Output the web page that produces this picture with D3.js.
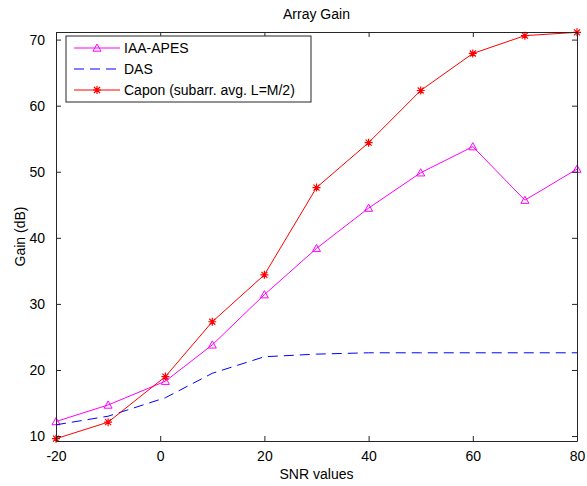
<html>
<head>
<meta charset="UTF-8">
<script src="https://cdn.jsdelivr.net/npm/d3@7"></script>
<style>
  body { margin: 0; background: #fff; }
  text { font-family: "Liberation Sans", Arial, sans-serif; font-size: 14px; fill: #000; }
</style>
</head>
<body>
<svg width="587" height="486"></svg>
<script>
// data
var snr = [-20, -10, 1, 10, 20, 30, 40, 50, 60, 70, 80];
var iaaApes = [12.2, 14.7, 18.3, 23.8, 31.4, 38.4, 44.5, 49.85, 53.8, 45.7, 50.4];
var das = [11.7, 13.0, 15.8, 19.5, 22.0, 22.4, 22.6, 22.6, 22.6, 22.6, 22.6];
var capon = [9.6, 12.1, 19.0, 27.3, 34.4, 47.6, 54.4, 62.3, 67.9, 70.6, 71.1];
var xTicks = [-20, 0, 20, 40, 60, 80];
var yTicks = [10, 20, 30, 40, 50, 60, 70];
var seriesNames = ["IAA-APES", "DAS", "Capon (subarr. avg. L=M/2)"];

var svg = d3.select("svg");
var mLeft = 56, mRight = 577, mTop = 32, mBottom = 441;

var x = d3.scaleLinear().domain([-20, 80]).range([mLeft, mRight]);
var y = d3.scaleLinear().domain([9.25, 71.15]).range([mBottom, mTop]);

// series setup
var series = [
  { name: seriesNames[0], values: iaaApes, color: "#ff00ff", dash: null, marker: "tri" },
  { name: seriesNames[1], values: das, color: "#0000ff", dash: "10,6", marker: null },
  { name: seriesNames[2], values: capon, color: "#ff0000", dash: null, marker: "star" }
];

function drawMarker(g, type, cx, cy, color) {
  if (type == "tri") {
    var s = 4;
    g.append("path")
      .attr("d", "M" + cx + "," + (cy - s) + "L" + (cx + s) + "," + (cy + s * 0.8) + "L" + (cx - s) + "," + (cy + s * 0.8) + "Z")
      .attr("fill", "none").attr("stroke", color).attr("stroke-width", 1);
  } else if (type == "star") {
    var r = 4, d = 3;
    g.append("path")
      .attr("d", "M" + (cx - r) + "," + cy + "H" + (cx + r) + "M" + cx + "," + (cy - r) + "V" + (cy + r) +
        "M" + (cx - d) + "," + (cy - d) + "L" + (cx + d) + "," + (cy + d) +
        "M" + (cx - d) + "," + (cy + d) + "L" + (cx + d) + "," + (cy - d))
      .attr("stroke", color).attr("stroke-width", 1.2).attr("fill", "none");
  }
}

// clip so the lines stay inside the box
svg.append("clipPath").attr("id", "clip")
  .append("rect").attr("x", mLeft).attr("y", mTop).attr("width", mRight - mLeft).attr("height", mBottom - mTop);

var line = d3.line().x(function(d) { return x(d[0]); }).y(function(d) { return y(d[1]); });

var plot = svg.append("g");
series.forEach(function(s) {
  var pts = snr.map(function(v, i) { return [v, s.values[i]]; });
  plot.append("path")
    .attr("d", line(pts))
    .attr("clip-path", "url(#clip)")
    .attr("fill", "none")
    .attr("stroke", s.color)
    .attr("stroke-width", 1)
    .attr("stroke-dasharray", s.dash);
  if (s.marker) {
    pts.forEach(function(p) { drawMarker(plot, s.marker, x(p[0]), y(p[1]), s.color); });
  }
});

// axes, matlab style box with inner ticks
var axisColor = "#262626";
var plain = function(d) { return String(d); };
svg.append("g").attr("transform", "translate(0," + mBottom + ")")
  .call(d3.axisBottom(x).tickValues(xTicks).tickFormat(plain).tickSizeInner(-5).tickSizeOuter(0).tickPadding(10))
  .call(function(g) { g.selectAll("text").attr("dy", "0.71em"); });
svg.append("g").attr("transform", "translate(0," + mTop + ")")
  .call(d3.axisTop(x).tickValues(xTicks).tickSizeInner(-5).tickSizeOuter(0).tickFormat(""));
svg.append("g").attr("transform", "translate(" + mLeft + ",0)")
  .call(d3.axisLeft(y).tickValues(yTicks).tickFormat(plain).tickSizeInner(-5).tickSizeOuter(0).tickPadding(11));
svg.append("g").attr("transform", "translate(" + mRight + ",0)")
  .call(d3.axisRight(y).tickValues(yTicks).tickSizeInner(-5).tickSizeOuter(0).tickFormat(""));

svg.selectAll(".domain").attr("stroke", axisColor);
svg.selectAll(".tick line").attr("stroke", axisColor);
svg.selectAll(".tick text").style("font-size", "14px").attr("fill", "#000");

// titles
svg.append("text").attr("x", (mLeft + mRight) / 2).attr("y", 19).attr("text-anchor", "middle").text("Array Gain");
svg.append("text").attr("x", (mLeft + mRight) / 2).attr("y", 479).attr("text-anchor", "middle").text("SNR values");
svg.append("text").attr("transform", "translate(25," + ((mTop + mBottom) / 2) + ") rotate(-90)")
  .attr("text-anchor", "middle").text("Gain (dB)");

// legend
var lg = svg.append("g");
lg.append("rect").attr("x", 66).attr("y", 36).attr("width", 245).attr("height", 66)
  .attr("fill", "#fff").attr("stroke", axisColor).attr("stroke-width", 1);
series.forEach(function(s, i) {
  var ly = 48 + i * 21;
  lg.append("line").attr("x1", 74).attr("x2", 120).attr("y1", ly).attr("y2", ly)
    .attr("stroke", s.color).attr("stroke-width", 1).attr("stroke-dasharray", s.dash);
  if (s.marker) drawMarker(lg, s.marker, 97, ly, s.color);
  lg.append("text").attr("x", 124).attr("y", ly + 5).text(s.name);
});
</script>
</body>
</html>
